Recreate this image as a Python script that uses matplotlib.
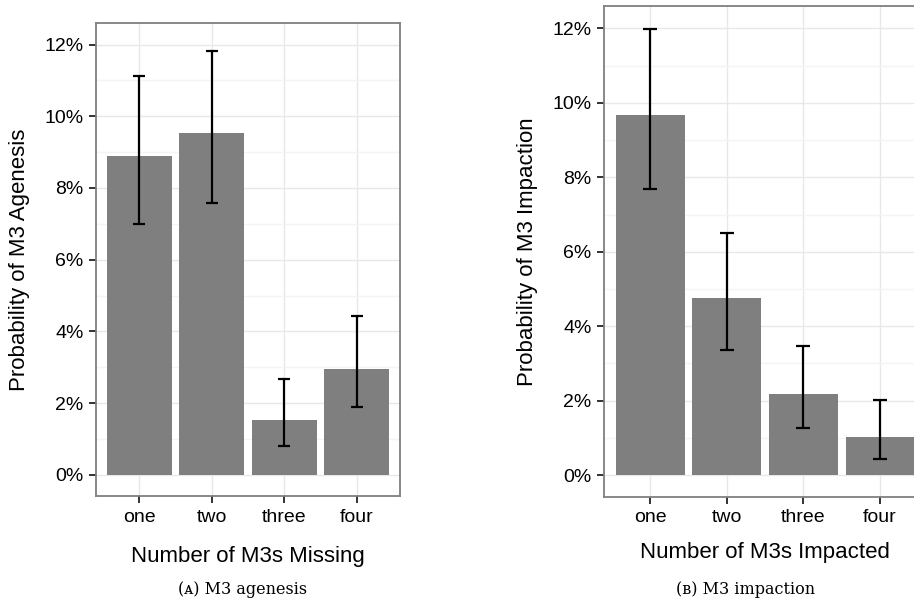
import matplotlib
matplotlib.use('Agg')
import matplotlib.pyplot as plt
import numpy as np
from matplotlib.ticker import FuncFormatter, MultipleLocator

plt.rcParams['font.family'] = ['Liberation Sans', 'DejaVu Sans']

# data (percent)
categories = ['one', 'two', 'three', 'four']

agenesis_prob = [8.88, 9.52, 1.53, 2.95]
agenesis_low = [6.99, 7.57, 0.81, 1.89]
agenesis_high = [11.11, 11.83, 2.67, 4.43]

impaction_prob = [9.67, 4.75, 2.17, 1.02]
impaction_low = [7.68, 3.37, 1.27, 0.43]
impaction_high = [11.98, 6.51, 3.48, 2.02]

BAR_COLOR = '#7f7f7f'
BORDER_COLOR = '#7f7f7f'
TICK_SIZE = 14
LABEL_SIZE = 16


def draw_panel(ax, probs, low, high, ylabel, xlabel, ylim, capsize, xpad):
    x = np.arange(1, len(categories) + 1)
    probs = np.array(probs)
    yerr = [probs - np.array(low), np.array(high) - probs]

    ax.bar(x, probs, 0.9, color=BAR_COLOR, zorder=2)
    ax.errorbar(x, probs, yerr=yerr, fmt='none', ecolor='black', elinewidth=1.6,
                capsize=capsize, capthick=1.6, zorder=3)

    ax.set_xlim(0.4, 4.6)
    ax.set_ylim(*ylim)
    ax.set_xticks(x)
    ax.set_xticklabels(categories)
    ax.yaxis.set_major_locator(MultipleLocator(2))
    ax.yaxis.set_minor_locator(MultipleLocator(1))
    ax.yaxis.set_major_formatter(FuncFormatter(lambda v, p: '%d%%' % round(v)))

    ax.grid(which='major', color='#e8e8e8', linewidth=1.0, zorder=0)
    ax.grid(which='minor', axis='y', color='#f4f4f4', linewidth=1.0, zorder=0)
    ax.set_axisbelow(True)

    for s in ax.spines.values():
        s.set_color(BORDER_COLOR)
        s.set_linewidth(1.3)
    ax.tick_params(which='major', direction='out', length=5, width=1.4, color='#333333',
                   labelsize=TICK_SIZE, pad=4)
    ax.tick_params(which='minor', length=0)
    ax.set_ylabel(ylabel, fontsize=LABEL_SIZE, labelpad=10)
    ax.set_xlabel(xlabel, fontsize=LABEL_SIZE, labelpad=xpad)


fig = plt.figure(figsize=(9.14, 6.05), dpi=100)

ax1 = fig.add_axes([96 / 914, 1 - 496 / 605, 304 / 914, 473 / 605])
draw_panel(ax1, agenesis_prob, agenesis_low, agenesis_high,
           'Probability of M3 Agenesis', 'Number of M3s Missing', (-0.59, 12.6), 4.0, 15)

ax2 = fig.add_axes([604 / 914, 1 - 497 / 605, 322 / 914, 491.3 / 605])
draw_panel(ax2, impaction_prob, impaction_low, impaction_high,
           'Probability of M3 Impaction', 'Number of M3s Impacted', (-0.59, 12.61), 5.0, 11)

# captions
fig.text(243 / 914, 1 - 590 / 605, '(ᴀ) M3 agenesis', family='DejaVu Serif',
         fontsize=11.5, ha='center', va='center')
fig.text(746 / 914, 1 - 590 / 605, '(ʙ) M3 impaction', family='DejaVu Serif',
         fontsize=11.5, ha='center', va='center')

fig.savefig('out.png', dpi=100)
